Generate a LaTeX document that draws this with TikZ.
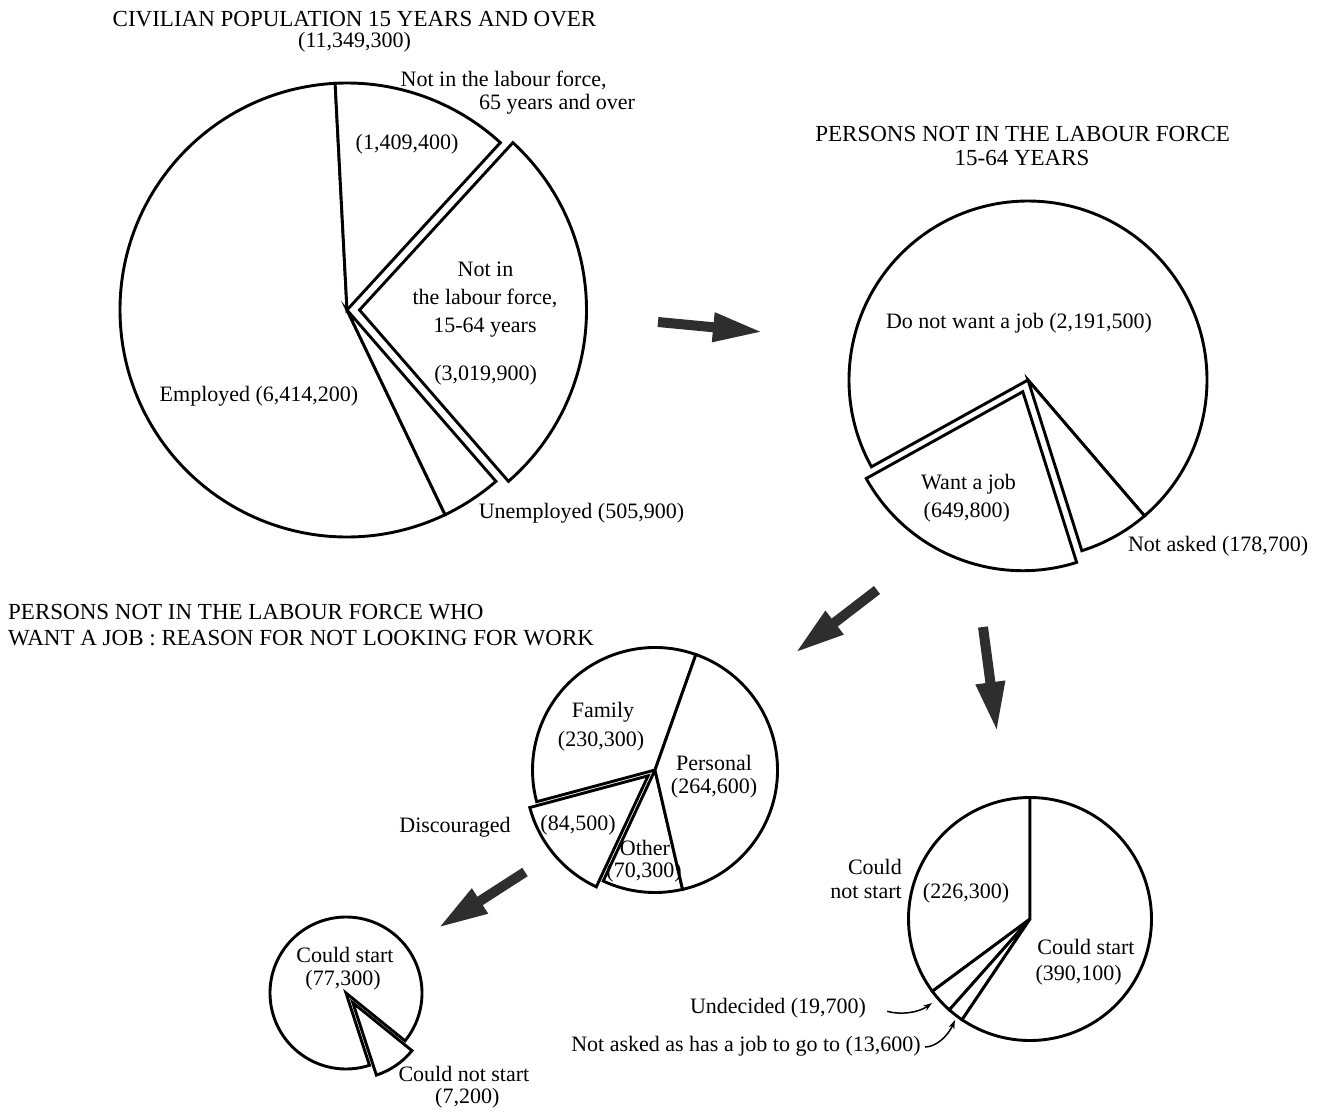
\documentclass[tikz,border=0pt]{standalone}
\usepackage{fontspec}
\setmainfont{Liberation Serif}
\usetikzlibrary{arrows.meta}
% #1 cx, #2 cy, #3 r, #4 start angle, #5 end angle, #6 style
\newcommand\pieslice[6]{\draw[#6] (#1,#2) -- ++(#4:#3) arc[start angle=#4, end angle=#5, radius=#3] -- cycle;}
\begin{document}
\begin{tikzpicture}[x=1pt,y=1pt,
  lbl/.style={font=\fontsize{22}{26}\selectfont, inner sep=0pt},
  ttl/.style={font=\fontsize{23}{27}\selectfont, inner sep=0pt},
  wedge/.style={draw=black, line width=2.9pt, line join=miter, fill=white},
  bigarrow/.style={draw=black!82, line width=10pt, -{Triangle[length=50pt,width=27pt]}},
  ptr/.style={draw=black, line width=1.5pt, -{Stealth[length=9pt,width=6pt]}}]
\fill[white] (0,0) rectangle (1322,-1111);
\useasboundingbox (0,0) rectangle (1322,-1111);

% ---------- Pie 1 ----------
\coordinate (p1) at (347,-310);
\pieslice{347}{-310}{227}{93}{295.6}{wedge}
\pieslice{347}{-310}{227}{295.6}{311}{wedge}
\pieslice{347}{-310}{227}{47.5}{93}{wedge}
\pieslice{359.5}{-310}{227}{-49}{47.5}{wedge}
\node[ttl] (tA) at (354.5,-19) {CIVILIAN POPULATION 15 YEARS AND OVER};
\node[lbl] (tB) at (354.6,-42.5) {(11,349,300)};
\node[lbl] (l65a) at (503.6,-80) {Not in the labour force,};
\node[lbl] (l65b) at (557,-104.5) {65 years and over};
\node[lbl] (l65v) at (407,-144.5) {(1,409,400)};
\node[lbl] (lnA) at (485.5,-269.5) {Not in};
\node[lbl] (lnB) at (485,-298.5) {the labour force,};
\node[lbl] (lnC) at (485,-328) {15-64 years};
\node[lbl] (lnv) at (485.7,-375) {(3,019,900)};
\node[lbl] (lemp) at (259,-396.5) {Employed (6,414,200)};
\node[lbl,anchor=west] (lun) at (478.6,-513.5) {Unemployed (505,900)};

% ---------- Pie 2 ----------
\coordinate (p2) at (1028,-380);
\pieslice{1028}{-380}{179}{-49.4}{209}{wedge}
\pieslice{1028}{-380}{179}{287.5}{310.6}{wedge}
\pieslice{1022.8}{-391.7}{179}{209}{287.5}{wedge}
\node[ttl] (tC) at (1022.7,-134) {PERSONS NOT IN THE LABOUR FORCE};
\node[ttl] (tD) at (1022,-157.5) {15-64 YEARS};
\node[lbl] (ldn) at (1019,-323) {Do not want a job (2,191,500)};
\node[lbl] (lwa) at (968.6,-484) {Want a job};
\node[lbl] (lwv) at (966.8,-512) {(649,800)};
\node[lbl,anchor=west] (lna) at (1127.8,-546.7) {Not asked (178,700)};

% ---------- Pie 3 ----------
\coordinate (p3) at (655,-770);
\pieslice{655}{-770}{122.5}{70.5}{195}{wedge}
\pieslice{648.1}{-775.8}{122.5}{195}{245}{wedge}
\pieslice{655}{-770}{122.5}{245}{283}{wedge}
\pieslice{655}{-770}{122.5}{283}{430.5}{wedge}
\node[ttl,anchor=west] (tE) at (8,-612) {PERSONS NOT IN THE LABOUR FORCE WHO};
\node[ttl,anchor=west] (tF) at (8,-638) {WANT A JOB : REASON FOR NOT LOOKING FOR WORK};
\node[lbl] (lfa) at (603,-712) {Family};
\node[lbl] (lfv) at (601,-741) {(230,300)};
\node[lbl] (lpe) at (714,-763) {Personal};
\node[lbl] (lpv) at (714,-788) {(264,600)};
\node[lbl] (ldi) at (455,-827) {Discouraged};
\node[lbl] (ldv) at (578,-825) {(84,500)};
\node[lbl] (lot) at (645,-848) {Other};
\node[lbl] (lov) at (644,-872) {(70,300)};

% ---------- Pie 4 ----------
\coordinate (p4) at (346,-993);
\pieslice{346}{-993}{76}{-39}{288}{wedge}
\pieslice{352.9}{-1002.8}{76}{288}{321}{wedge}
\node[lbl] (lcs) at (345,-955) {Could start};
\node[lbl] (lcv) at (343,-980) {(77,300)};
\node[lbl,anchor=west] (lcn) at (398.3,-1074) {Could not start};
\node[lbl,anchor=west] (lcnv) at (435,-1098.5) {(7,200)};

% ---------- Pie 5 ----------
\coordinate (p5) at (1030,-919);
\pieslice{1030}{-919}{121.5}{90}{216.5}{wedge}
\pieslice{1030}{-919}{121.5}{216.5}{228.4}{wedge}
\pieslice{1030}{-919}{121.5}{228.4}{236}{wedge}
\pieslice{1030}{-919}{121.5}{236}{450}{wedge}
\node[lbl,anchor=east] (lcoa) at (902,-866.5) {Could};
\node[lbl,anchor=east] (lcob) at (902,-892.5) {not start};
\node[lbl] (lcov) at (966,-893) {(226,300)};
\node[lbl] (lsa) at (1086,-946.5) {Could start};
\node[lbl] (lsv) at (1078.7,-975) {(390,100)};
\node[lbl,anchor=east] (ud) at (866.2,-1008.3) {Undecided (19,700)};
\node[lbl,anchor=east] (nas) at (921,-1046) {Not asked as has a job to go to (13,600)};
\coordinate (udTip) at (932,-1003);
\coordinate (naTip) at (955,-1020);
\draw[ptr] ([xshift=21pt,yshift=-3pt]ud.east) .. controls (900,-1015) and (918,-1013) .. (udTip);
\draw[ptr] ([xshift=4pt,yshift=-1pt]nas.east) .. controls (936,-1047) and (948,-1036) .. (naTip);

% ---------- Big arrows ----------
\coordinate (A1s) at (658,-322); \coordinate (A1e) at (763,-332);
\coordinate (A2s) at (877,-590); \coordinate (A2e) at (795,-653);
\coordinate (A3s) at (983,-627); \coordinate (A3e) at (997,-732);
\coordinate (A4s) at (525,-872); \coordinate (A4e) at (438,-928);
\draw[bigarrow] (A1s) -- (A1e);
\draw[bigarrow] (A2s) -- (A2e);
\draw[bigarrow] (A3s) -- (A3e);
\draw[bigarrow] (A4s) -- (A4e);
\end{tikzpicture}
\end{document}
